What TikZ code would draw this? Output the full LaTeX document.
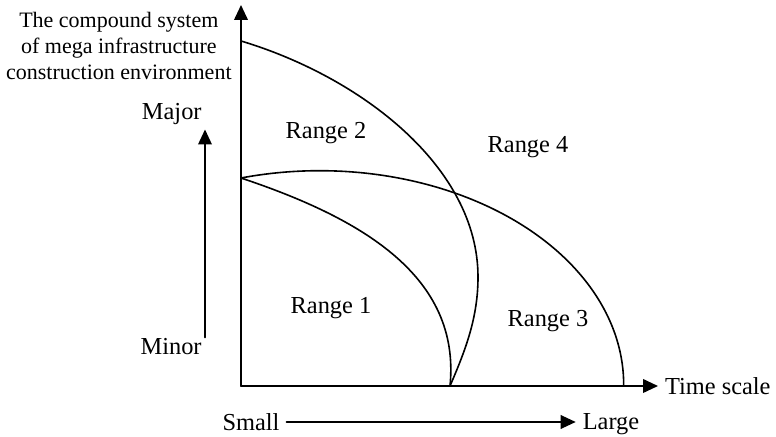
\documentclass[tikz,border=0pt]{standalone}
\usepackage{fontspec}
\setmainfont{Liberation Serif}
\usetikzlibrary{arrows.meta}

\begin{document}
\begin{tikzpicture}[x=0.5pt,y=-0.5pt,line cap=round,line join=round,
  >={Triangle[length=7.5pt,width=6.8pt]},
  lbl/.style={font=\fontsize{12.2}{14.6}\selectfont,text depth=0pt},
  curve/.style={line width=0.8pt},
  axis/.style={line width=1pt,->}]
  \useasboundingbox (0,0) rectangle (776,437);

  % Axes.
  \coordinate (O) at (241,386);
  \coordinate (ytop) at (241,5);
  \node[lbl,anchor=west] (tscale) at (658,386) {Time scale};
  \draw[axis] (O)--(ytop);
  \draw[axis] (O)--(tscale.west);
  \node[font=\fontsize{11}{13}\selectfont,align=center,anchor=east,inner sep=0]
    (title) at (232,46) {The compound system\\of mega infrastructure\\construction environment};

  % Magnitude arrow.
  \node[lbl,anchor=east,inner sep=0] (major) at (202,111) {Major};
  \node[lbl,anchor=east,inner sep=0] (minor) at (202,346) {Minor};
  \draw[->,line width=.8pt] ([xshift=1.5pt]minor.north east)
    --([xshift=1.5pt,yshift=-5pt]major.south east);

  % Time arrow.
  \node[lbl] (small) at (251,422) {Small};
  \node[lbl] (large) at (611,422) {Large};
  \draw[->,line width=.8pt] (small)--(large);

  % Range boundaries.
  \draw[curve] (241,178) .. controls (361,218) and (461,276) .. (450,386);
  \draw[curve] (241,41) .. controls (361,77) and (478,167) .. (478,277)
    .. controls (478,317) and (466,349) .. (450,386);
  \draw[curve] (241,178) arc[start angle=-105,end angle=0,x radius=304,y radius=214];

  % Range labels.
  \node[lbl] (r1) at (331,305) {Range 1};
  \node[lbl] (r2) at (326,130) {Range 2};
  \node[lbl] (r3) at (548,318) {Range 3};
  \node[lbl] (r4) at (528,144) {Range 4};
\end{tikzpicture}
\end{document}
